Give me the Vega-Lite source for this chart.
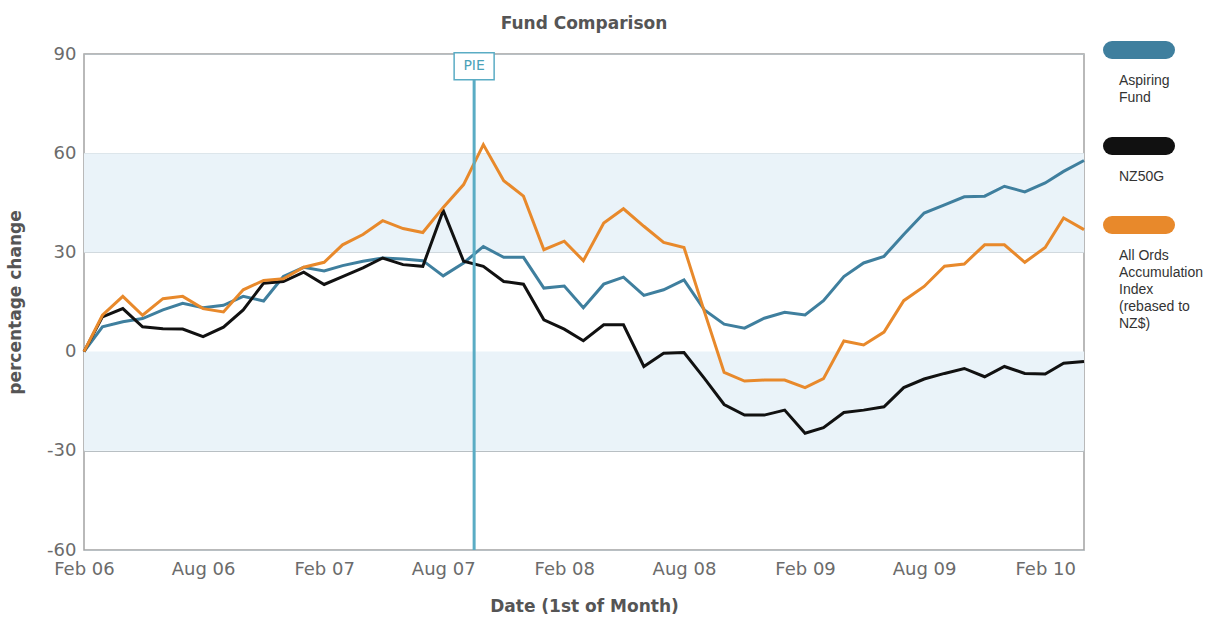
{
  "$schema": "https://vega.github.io/schema/vega-lite/v6.json",
  "width": 1000,
  "height": 496,
  "padding": {"left": 6, "top": 15, "right": 0, "bottom": 0},
  "background": "white",
  "title": {"text": "Fund Comparison", "font": "DejaVu Sans", "fontSize": 17, "fontWeight": "bold", "color": "#555555", "anchor": "middle", "offset": 12},
  "config": {
    "view": {"stroke": "#a3a3a3", "strokeWidth": 1.5},
    "axis": {"labelFont": "DejaVu Sans", "titleFont": "DejaVu Sans", "labelColor": "#6b6b6b", "titleColor": "#555555", "titleFontWeight": "bold"}
  },
  "datasets": {
    "funds": [
      {"d": "2006-02-01", "a": 0, "n": 0, "o": 0},
      {"d": "2006-03-01", "a": 7.5, "n": 10.5, "o": 11},
      {"d": "2006-04-01", "a": 9, "n": 13, "o": 16.7},
      {"d": "2006-05-01", "a": 10, "n": 7.5, "o": 11},
      {"d": "2006-06-01", "a": 12.6, "n": 6.9, "o": 16},
      {"d": "2006-07-01", "a": 14.6, "n": 6.8, "o": 16.7},
      {"d": "2006-08-01", "a": 13.3, "n": 4.5, "o": 13},
      {"d": "2006-09-01", "a": 14, "n": 7.4, "o": 12},
      {"d": "2006-10-01", "a": 16.7, "n": 12.6, "o": 18.7},
      {"d": "2006-11-01", "a": 15.3, "n": 20.7, "o": 21.5},
      {"d": "2006-12-01", "a": 22.7, "n": 21.2, "o": 22},
      {"d": "2007-01-01", "a": 25.5, "n": 24, "o": 25.5},
      {"d": "2007-02-01", "a": 24.4, "n": 20.3, "o": 27},
      {"d": "2007-03-01", "a": 26, "n": 22.7, "o": 32.3},
      {"d": "2007-04-01", "a": 27.3, "n": 25.3, "o": 35.4},
      {"d": "2007-05-01", "a": 28.3, "n": 28.3, "o": 39.6},
      {"d": "2007-06-01", "a": 28, "n": 26.3, "o": 37.2},
      {"d": "2007-07-01", "a": 27.5, "n": 25.8, "o": 36},
      {"d": "2007-08-01", "a": 22.9, "n": 42.7, "o": 43.6},
      {"d": "2007-09-01", "a": 26.8, "n": 27.3, "o": 50.5},
      {"d": "2007-10-01", "a": 31.8, "n": 25.8, "o": 62.6},
      {"d": "2007-11-01", "a": 28.5, "n": 21.2, "o": 51.7},
      {"d": "2007-12-01", "a": 28.5, "n": 20.4, "o": 47},
      {"d": "2008-01-01", "a": 19.2, "n": 9.6, "o": 30.8},
      {"d": "2008-02-01", "a": 19.8, "n": 6.8, "o": 33.4},
      {"d": "2008-03-01", "a": 13.3, "n": 3.3, "o": 27.5},
      {"d": "2008-04-01", "a": 20.4, "n": 8.1, "o": 38.9},
      {"d": "2008-05-01", "a": 22.5, "n": 8.1, "o": 43.2},
      {"d": "2008-06-01", "a": 17, "n": -4.5, "o": 37.9},
      {"d": "2008-07-01", "a": 18.7, "n": -0.5, "o": 33},
      {"d": "2008-08-01", "a": 21.7, "n": -0.3, "o": 31.5},
      {"d": "2008-09-01", "a": 12.6, "n": -8.1, "o": 12.1},
      {"d": "2008-10-01", "a": 8.3, "n": -16, "o": -6.3},
      {"d": "2008-11-01", "a": 7.1, "n": -19.2, "o": -8.9},
      {"d": "2008-12-01", "a": 10.1, "n": -19.2, "o": -8.6},
      {"d": "2009-01-01", "a": 11.9, "n": -17.7, "o": -8.6},
      {"d": "2009-02-01", "a": 11.1, "n": -24.7, "o": -10.9},
      {"d": "2009-03-01", "a": 15.4, "n": -23, "o": -8.2},
      {"d": "2009-04-01", "a": 22.7, "n": -18.4, "o": 3.2},
      {"d": "2009-05-01", "a": 26.8, "n": -17.7, "o": 2},
      {"d": "2009-06-01", "a": 28.8, "n": -16.7, "o": 5.9},
      {"d": "2009-07-01", "a": 35.4, "n": -10.9, "o": 15.4},
      {"d": "2009-08-01", "a": 41.9, "n": -8.3, "o": 19.7},
      {"d": "2009-09-01", "a": 44.4, "n": -6.6, "o": 25.8},
      {"d": "2009-10-01", "a": 46.8, "n": -5.1, "o": 26.5},
      {"d": "2009-11-01", "a": 47, "n": -7.6, "o": 32.3},
      {"d": "2009-12-01", "a": 50, "n": -4.5, "o": 32.3},
      {"d": "2010-01-01", "a": 48.3, "n": -6.6, "o": 27},
      {"d": "2010-02-01", "a": 51, "n": -6.8, "o": 31.5},
      {"d": "2010-03-01", "a": 54.5, "n": -3.5, "o": 40.4},
      {"d": "2010-04-01", "a": 57.8, "n": -3, "o": 36.9}
    ],
    "bands": [{"lo": 30, "hi": 60}, {"lo": -30, "hi": 0}],
    "events": [{"d": "2007-09-17", "label": "PIE"}]
  },
  "layer": [
    {
      "data": {"name": "bands"},
      "mark": {"type": "rect", "color": "#eaf3f9"},
      "encoding": {
        "y": {"field": "lo", "type": "quantitative", "scale": {"domain": [-60, 90], "nice": false, "zero": false},
          "axis": {"title": "percentage change", "titleFontSize": 17, "titlePadding": 16, "labelFontSize": 18, "labelPadding": 8, "ticks": false, "tickSize": 0, "domain": false, "grid": true, "gridColor": "#b8bfc3", "gridWidth": 1.2, "values": [-60, -30, 0, 30, 60, 90], "labelExpr": "'' + datum.value", "minExtent": 44, "maxExtent": 44}},
        "y2": {"field": "hi"}
      }
    },
    {
      "data": {"name": "funds"},
      "transform": [
        {"fold": ["a", "n", "o"], "as": ["key", "pct"]},
        {"lookup": "key", "from": {"data": {"values": [
          {"key": "a", "series": "Aspiring Fund"},
          {"key": "n", "series": "NZ50G"},
          {"key": "o", "series": "All Ords Accumulation Index (rebased to NZ$)"}
        ]}, "key": "key", "fields": ["series"]}}
      ],
      "mark": {"type": "line", "strokeWidth": 3},
      "encoding": {
        "x": {"field": "d", "type": "temporal", "scale": {"type": "utc", "domain": [{"year": 2006, "month": 2, "date": 1, "utc": true}, {"year": 2010, "month": 4, "date": 1, "utc": true}], "nice": false},
          "axis": {"title": "Date (1st of Month)", "titleFontSize": 17, "titlePadding": 20, "labelFontSize": 18, "labelPadding": 10, "labelFlush": false, "ticks": false, "tickSize": 0, "domain": false, "grid": false, "labelExpr": "utcFormat(datum.value, '%b %y')",
            "values": [
              {"year": 2006, "month": 2, "date": 1, "utc": true},
              {"year": 2006, "month": 8, "date": 1, "utc": true},
              {"year": 2007, "month": 2, "date": 1, "utc": true},
              {"year": 2007, "month": 8, "date": 1, "utc": true},
              {"year": 2008, "month": 2, "date": 1, "utc": true},
              {"year": 2008, "month": 8, "date": 1, "utc": true},
              {"year": 2009, "month": 2, "date": 1, "utc": true},
              {"year": 2009, "month": 8, "date": 1, "utc": true},
              {"year": 2010, "month": 2, "date": 1, "utc": true}
            ]}},
        "y": {"field": "pct", "type": "quantitative"},
        "color": {"field": "series", "type": "nominal",
          "scale": {"domain": ["Aspiring Fund", "NZ50G", "All Ords Accumulation Index (rebased to NZ$)"], "range": ["#3f7f9e", "#111111", "#e8892b"]},
          "legend": {"title": null, "orient": "none", "legendX": 999, "legendY": 10,
            "symbolType": "M19,-24H73", "symbolSize": 4, "symbolStrokeWidth": 18, "symbolFillColor": "transparent",
            "labelOffset": 16, "labelFont": "Liberation Sans", "labelFontSize": 14, "labelColor": "#333333", "labelBaseline": "top", "labelLimit": 200,
            "rowPadding": 5,
            "labelExpr": "datum.label == 'Aspiring Fund' ? ['Aspiring', 'Fund'] : datum.label == 'NZ50G' ? ['NZ50G'] : ['All Ords', 'Accumulation', 'Index', '(rebased to', 'NZ$)']",
            "encode": {"symbols": {"update": {"strokeCap": {"value": "round"}}}, "labels": {"update": {"lineHeight": {"value": 17}}}}
          }}
      }
    },
    {
      "data": {"name": "events"},
      "mark": {"type": "rule", "color": "#5aacc4", "strokeWidth": 3},
      "encoding": {"x": {"field": "d", "type": "temporal"}}
    },
    {
      "data": {"name": "events"},
      "mark": {"type": "point", "shape": "M-1,-0.68L1,-0.68L1,0.68L-1,0.68Z", "size": 1600, "filled": true, "fill": "white", "stroke": "#5aacc4", "strokeWidth": 1.5, "opacity": 1},
      "encoding": {"x": {"field": "d", "type": "temporal"}, "y": {"datum": 86.3}}
    },
    {
      "data": {"name": "events"},
      "mark": {"type": "text", "font": "DejaVu Sans", "fontSize": 14, "color": "#4aa2b8", "baseline": "middle", "align": "center"},
      "encoding": {"x": {"field": "d", "type": "temporal"}, "y": {"datum": 86.3}, "text": {"field": "label"}}
    }
  ]
}
